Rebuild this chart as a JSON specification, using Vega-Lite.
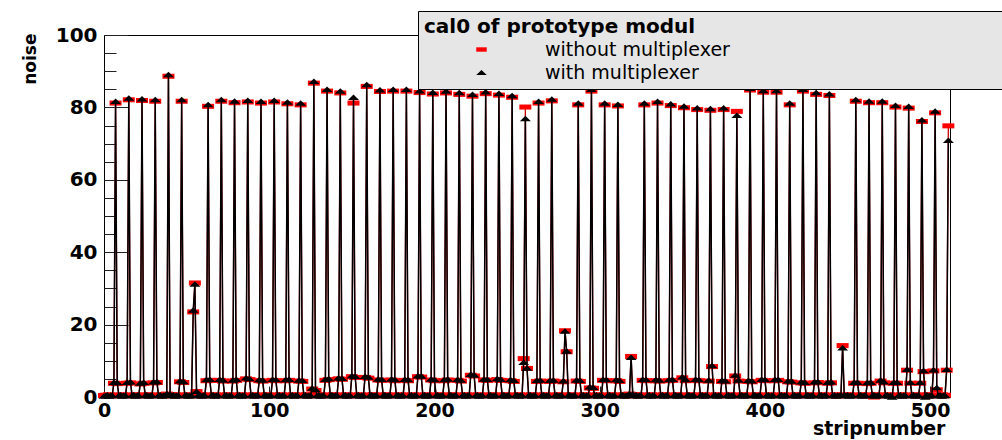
{
"$schema":"https://vega.github.io/schema/vega-lite/v6.json",
"width":846,"height":362,
"autosize":{"type":"none"},
"padding":{"left":104,"top":35,"right":52,"bottom":43},
"background":"white",
"config":{
 "view":{"stroke":"black","strokeWidth":1},
 "font":"DejaVu Sans",
 "legend":{"orient":"none","legendX":314,"legendY":-24,"padding":6,"fillColor":"#e6e6e6","strokeColor":"black",
  "titleFont":"DejaVu Sans","titleFontWeight":"bold","titleFontSize":20,"titleColor":"black","titlePadding":3,"titleLimit":1000,
  "labelFont":"DejaVu Sans","labelFontSize":19,"labelColor":"black","labelLimit":2000,"labelOffset":54,"symbolOffset":48,
  "symbolSize":110,"rowPadding":3,"symbolStrokeWidth":0}
},
"datasets":{"d":[
{"s":0,"a":0.4,"b":0.3},{"s":1,"a":0.5,"b":0.4},{"s":2,"a":0.4,"b":0.6},{"s":3,"a":0.6,"b":0.3},{"s":4,"a":0.3,"b":0.5},{"s":5,"a":0.5,"b":0.4},{"s":6,"a":3.8,"b":4.1},{"s":7,"a":81.2,"b":81.7},
{"s":8,"a":3.7,"b":4.0},{"s":9,"a":0.5,"b":0.4},{"s":10,"a":0.4,"b":0.6},{"s":11,"a":0.6,"b":0.3},{"s":12,"a":0.3,"b":0.5},{"s":13,"a":0.5,"b":0.4},{"s":14,"a":3.8,"b":4.1},{"s":15,"a":82.1,"b":82.6},
{"s":16,"a":3.9,"b":4.2},{"s":17,"a":0.5,"b":0.4},{"s":18,"a":0.4,"b":0.6},{"s":19,"a":0.6,"b":0.3},{"s":20,"a":0.3,"b":0.5},{"s":21,"a":0.5,"b":0.4},{"s":22,"a":3.6,"b":3.9},{"s":23,"a":81.9,"b":82.4},
{"s":24,"a":3.8,"b":4.1},{"s":25,"a":0.5,"b":0.4},{"s":26,"a":0.4,"b":0.6},{"s":27,"a":0.6,"b":0.3},{"s":28,"a":0.3,"b":0.5},{"s":29,"a":0.5,"b":0.4},{"s":30,"a":3.9,"b":4.2},{"s":31,"a":81.7,"b":82.2},
{"s":32,"a":4.0,"b":4.3},{"s":33,"a":0.5,"b":0.4},{"s":34,"a":0.4,"b":0.6},{"s":35,"a":0.6,"b":0.3},{"s":36,"a":0.3,"b":0.5},{"s":37,"a":0.5,"b":0.4},{"s":38,"a":0.8,"b":1.0},{"s":39,"a":88.6,"b":89.1},
{"s":40,"a":0.6,"b":0.8},{"s":41,"a":0.5,"b":0.4},{"s":42,"a":0.4,"b":0.6},{"s":43,"a":0.6,"b":0.3},{"s":44,"a":0.3,"b":0.5},{"s":45,"a":0.5,"b":0.4},{"s":46,"a":4.2,"b":4.5},{"s":47,"a":81.7,"b":82.2},
{"s":48,"a":4.0,"b":4.3},{"s":49,"a":0.5,"b":0.4},{"s":50,"a":0.4,"b":0.6},{"s":51,"a":0.6,"b":0.3},{"s":52,"a":0.3,"b":0.5},{"s":53,"a":0.5,"b":0.4},{"s":54,"a":23.5,"b":24.0},{"s":55,"a":31.5,"b":31.2},
{"s":56,"a":1.5,"b":1.6},{"s":57,"a":0.5,"b":0.4},{"s":58,"a":0.4,"b":0.6},{"s":59,"a":0.6,"b":0.3},{"s":60,"a":0.3,"b":0.5},{"s":61,"a":0.5,"b":0.4},{"s":62,"a":4.5,"b":4.8},{"s":63,"a":80.3,"b":80.8},
{"s":64,"a":4.6,"b":4.9},{"s":65,"a":0.5,"b":0.4},{"s":66,"a":0.4,"b":0.6},{"s":67,"a":0.6,"b":0.3},{"s":68,"a":0.3,"b":0.5},{"s":69,"a":0.5,"b":0.4},{"s":70,"a":4.6,"b":4.9},{"s":71,"a":81.7,"b":82.2},
{"s":72,"a":4.4,"b":4.7},{"s":73,"a":0.5,"b":0.4},{"s":74,"a":0.4,"b":0.6},{"s":75,"a":0.6,"b":0.3},{"s":76,"a":0.3,"b":0.5},{"s":77,"a":0.5,"b":0.4},{"s":78,"a":4.4,"b":4.7},{"s":79,"a":81.3,"b":81.8},
{"s":80,"a":4.6,"b":4.9},{"s":81,"a":0.5,"b":0.4},{"s":82,"a":0.4,"b":0.6},{"s":83,"a":0.6,"b":0.3},{"s":84,"a":0.3,"b":0.5},{"s":85,"a":0.5,"b":0.4},{"s":86,"a":5.0,"b":5.3},{"s":87,"a":81.5,"b":82.0},
{"s":88,"a":4.8,"b":5.1},{"s":89,"a":0.5,"b":0.4},{"s":90,"a":0.4,"b":0.6},{"s":91,"a":0.6,"b":0.3},{"s":92,"a":0.3,"b":0.5},{"s":93,"a":0.5,"b":0.4},{"s":94,"a":4.5,"b":4.8},{"s":95,"a":81.2,"b":81.7},
{"s":96,"a":4.4,"b":4.7},{"s":97,"a":0.5,"b":0.4},{"s":98,"a":0.4,"b":0.6},{"s":99,"a":0.6,"b":0.3},{"s":100,"a":0.3,"b":0.5},{"s":101,"a":0.5,"b":0.4},{"s":102,"a":4.6,"b":4.9},{"s":103,"a":81.5,"b":82.0},
{"s":104,"a":4.5,"b":4.8},{"s":105,"a":0.5,"b":0.4},{"s":106,"a":0.4,"b":0.6},{"s":107,"a":0.6,"b":0.3},{"s":108,"a":0.3,"b":0.5},{"s":109,"a":0.5,"b":0.4},{"s":110,"a":4.5,"b":4.8},{"s":111,"a":81.0,"b":81.5},
{"s":112,"a":4.6,"b":4.9},{"s":113,"a":0.5,"b":0.4},{"s":114,"a":0.4,"b":0.6},{"s":115,"a":0.6,"b":0.3},{"s":116,"a":0.3,"b":0.5},{"s":117,"a":0.5,"b":0.4},{"s":118,"a":4.4,"b":4.7},{"s":119,"a":80.7,"b":81.2},
{"s":120,"a":4.3,"b":4.6},{"s":121,"a":0.5,"b":0.4},{"s":122,"a":0.4,"b":0.6},{"s":123,"a":0.6,"b":0.3},{"s":124,"a":0.3,"b":0.5},{"s":125,"a":0.5,"b":0.4},{"s":126,"a":2.2,"b":2.5},{"s":127,"a":86.7,"b":87.2},
{"s":128,"a":1.8,"b":2.1},{"s":129,"a":0.5,"b":0.4},{"s":130,"a":0.4,"b":0.6},{"s":131,"a":0.6,"b":0.3},{"s":132,"a":0.3,"b":0.5},{"s":133,"a":0.5,"b":0.4},{"s":134,"a":4.6,"b":4.9},{"s":135,"a":84.5,"b":85.0},
{"s":136,"a":4.8,"b":5.1},{"s":137,"a":0.5,"b":0.4},{"s":138,"a":0.4,"b":0.6},{"s":139,"a":0.6,"b":0.3},{"s":140,"a":0.3,"b":0.5},{"s":141,"a":0.5,"b":0.4},{"s":142,"a":5.0,"b":5.3},{"s":143,"a":84.0,"b":84.5},
{"s":144,"a":4.9,"b":5.2},{"s":145,"a":0.5,"b":0.4},{"s":146,"a":0.4,"b":0.6},{"s":147,"a":0.6,"b":0.3},{"s":148,"a":0.3,"b":0.5},{"s":149,"a":0.5,"b":0.4},{"s":150,"a":5.6,"b":5.9},{"s":151,"a":81.2,"b":82.8},
{"s":152,"a":5.4,"b":5.7},{"s":153,"a":0.5,"b":0.4},{"s":154,"a":0.4,"b":0.6},{"s":155,"a":0.6,"b":0.3},{"s":156,"a":0.3,"b":0.5},{"s":157,"a":0.5,"b":0.4},{"s":158,"a":5.4,"b":5.7},{"s":159,"a":85.8,"b":86.3},
{"s":160,"a":5.2,"b":5.5},{"s":161,"a":0.5,"b":0.4},{"s":162,"a":0.4,"b":0.6},{"s":163,"a":0.6,"b":0.3},{"s":164,"a":0.3,"b":0.5},{"s":165,"a":0.5,"b":0.4},{"s":166,"a":4.7,"b":5.0},{"s":167,"a":84.4,"b":84.9},
{"s":168,"a":4.6,"b":4.9},{"s":169,"a":0.5,"b":0.4},{"s":170,"a":0.4,"b":0.6},{"s":171,"a":0.6,"b":0.3},{"s":172,"a":0.3,"b":0.5},{"s":173,"a":0.5,"b":0.4},{"s":174,"a":4.7,"b":5.0},{"s":175,"a":84.5,"b":85.0},
{"s":176,"a":4.5,"b":4.8},{"s":177,"a":0.5,"b":0.4},{"s":178,"a":0.4,"b":0.6},{"s":179,"a":0.6,"b":0.3},{"s":180,"a":0.3,"b":0.5},{"s":181,"a":0.5,"b":0.4},{"s":182,"a":4.6,"b":4.9},{"s":183,"a":84.5,"b":85.0},
{"s":184,"a":4.5,"b":4.8},{"s":185,"a":0.5,"b":0.4},{"s":186,"a":0.4,"b":0.6},{"s":187,"a":0.6,"b":0.3},{"s":188,"a":0.3,"b":0.5},{"s":189,"a":0.5,"b":0.4},{"s":190,"a":5.6,"b":5.9},{"s":191,"a":84.1,"b":84.6},
{"s":192,"a":5.5,"b":5.8},{"s":193,"a":0.5,"b":0.4},{"s":194,"a":0.4,"b":0.6},{"s":195,"a":0.6,"b":0.3},{"s":196,"a":0.3,"b":0.5},{"s":197,"a":0.5,"b":0.4},{"s":198,"a":4.7,"b":5.0},{"s":199,"a":83.7,"b":84.2},
{"s":200,"a":4.5,"b":4.8},{"s":201,"a":0.5,"b":0.4},{"s":202,"a":0.4,"b":0.6},{"s":203,"a":0.6,"b":0.3},{"s":204,"a":0.3,"b":0.5},{"s":205,"a":0.5,"b":0.4},{"s":206,"a":4.5,"b":4.8},{"s":207,"a":84.0,"b":84.5},
{"s":208,"a":4.7,"b":5.0},{"s":209,"a":0.5,"b":0.4},{"s":210,"a":0.4,"b":0.6},{"s":211,"a":0.6,"b":0.3},{"s":212,"a":0.3,"b":0.5},{"s":213,"a":0.5,"b":0.4},{"s":214,"a":4.6,"b":4.9},{"s":215,"a":83.6,"b":84.1},
{"s":216,"a":4.4,"b":4.7},{"s":217,"a":0.5,"b":0.4},{"s":218,"a":0.4,"b":0.6},{"s":219,"a":0.6,"b":0.3},{"s":220,"a":0.3,"b":0.5},{"s":221,"a":0.5,"b":0.4},{"s":222,"a":6.0,"b":6.3},{"s":223,"a":83.1,"b":83.6},
{"s":224,"a":5.8,"b":6.1},{"s":225,"a":0.5,"b":0.4},{"s":226,"a":0.4,"b":0.6},{"s":227,"a":0.6,"b":0.3},{"s":228,"a":0.3,"b":0.5},{"s":229,"a":0.5,"b":0.4},{"s":230,"a":4.7,"b":5.0},{"s":231,"a":83.8,"b":84.3},
{"s":232,"a":4.6,"b":4.9},{"s":233,"a":0.5,"b":0.4},{"s":234,"a":0.4,"b":0.6},{"s":235,"a":0.6,"b":0.3},{"s":236,"a":0.3,"b":0.5},{"s":237,"a":0.5,"b":0.4},{"s":238,"a":4.8,"b":5.1},{"s":239,"a":83.4,"b":83.9},
{"s":240,"a":4.6,"b":4.9},{"s":241,"a":0.5,"b":0.4},{"s":242,"a":0.4,"b":0.6},{"s":243,"a":0.6,"b":0.3},{"s":244,"a":0.3,"b":0.5},{"s":245,"a":0.5,"b":0.4},{"s":246,"a":4.5,"b":4.8},{"s":247,"a":82.8,"b":83.3},
{"s":248,"a":4.3,"b":4.6},{"s":249,"a":0.5,"b":0.4},{"s":250,"a":0.4,"b":0.6},{"s":251,"a":0.6,"b":0.3},{"s":252,"a":0.3,"b":0.5},{"s":253,"a":0.5,"b":0.4},{"s":254,"a":10.6,"b":9.6},{"s":255,"a":80.1,"b":76.9},
{"s":256,"a":7.9,"b":8.0},{"s":257,"a":0.5,"b":0.4},{"s":258,"a":0.4,"b":0.6},{"s":259,"a":0.6,"b":0.3},{"s":260,"a":0.3,"b":0.5},{"s":261,"a":0.5,"b":0.4},{"s":262,"a":4.3,"b":4.6},{"s":263,"a":81.2,"b":81.7},
{"s":264,"a":4.4,"b":4.7},{"s":265,"a":0.5,"b":0.4},{"s":266,"a":0.4,"b":0.6},{"s":267,"a":0.6,"b":0.3},{"s":268,"a":0.3,"b":0.5},{"s":269,"a":0.5,"b":0.4},{"s":270,"a":4.3,"b":4.6},{"s":271,"a":81.8,"b":82.3},
{"s":272,"a":4.4,"b":4.7},{"s":273,"a":0.5,"b":0.4},{"s":274,"a":0.4,"b":0.6},{"s":275,"a":0.6,"b":0.3},{"s":276,"a":0.3,"b":0.5},{"s":277,"a":0.5,"b":0.4},{"s":278,"a":4.2,"b":4.5},{"s":279,"a":18.3,"b":18.2},
{"s":280,"a":12.5,"b":12.7},{"s":281,"a":0.5,"b":0.4},{"s":282,"a":0.4,"b":0.6},{"s":283,"a":0.6,"b":0.3},{"s":284,"a":0.3,"b":0.5},{"s":285,"a":0.5,"b":0.4},{"s":286,"a":4.4,"b":4.7},{"s":287,"a":80.7,"b":81.2},
{"s":288,"a":4.3,"b":4.6},{"s":289,"a":0.5,"b":0.4},{"s":290,"a":0.4,"b":0.6},{"s":291,"a":0.6,"b":0.3},{"s":292,"a":0.3,"b":0.5},{"s":293,"a":0.5,"b":0.4},{"s":294,"a":2.5,"b":2.8},{"s":295,"a":84.5,"b":85.0},
{"s":296,"a":2.4,"b":2.7},{"s":297,"a":0.5,"b":0.4},{"s":298,"a":0.4,"b":0.6},{"s":299,"a":0.6,"b":0.3},{"s":300,"a":0.3,"b":0.5},{"s":301,"a":0.5,"b":0.4},{"s":302,"a":4.6,"b":4.9},{"s":303,"a":80.7,"b":81.2},
{"s":304,"a":4.5,"b":4.8},{"s":305,"a":0.5,"b":0.4},{"s":306,"a":0.4,"b":0.6},{"s":307,"a":0.6,"b":0.3},{"s":308,"a":0.3,"b":0.5},{"s":309,"a":0.5,"b":0.4},{"s":310,"a":4.5,"b":4.8},{"s":311,"a":80.4,"b":80.9},
{"s":312,"a":4.3,"b":4.6},{"s":313,"a":0.5,"b":0.4},{"s":314,"a":0.4,"b":0.6},{"s":315,"a":0.6,"b":0.3},{"s":316,"a":0.3,"b":0.5},{"s":317,"a":0.5,"b":0.4},{"s":318,"a":0.8,"b":1.0},{"s":319,"a":11.2,"b":11.0},
{"s":320,"a":0.6,"b":0.8},{"s":321,"a":0.5,"b":0.4},{"s":322,"a":0.4,"b":0.6},{"s":323,"a":0.6,"b":0.3},{"s":324,"a":0.3,"b":0.5},{"s":325,"a":0.5,"b":0.4},{"s":326,"a":4.6,"b":4.9},{"s":327,"a":80.7,"b":81.2},
{"s":328,"a":4.5,"b":4.8},{"s":329,"a":0.5,"b":0.4},{"s":330,"a":0.4,"b":0.6},{"s":331,"a":0.6,"b":0.3},{"s":332,"a":0.3,"b":0.5},{"s":333,"a":0.5,"b":0.4},{"s":334,"a":4.5,"b":4.8},{"s":335,"a":81.2,"b":81.7},
{"s":336,"a":4.4,"b":4.7},{"s":337,"a":0.5,"b":0.4},{"s":338,"a":0.4,"b":0.6},{"s":339,"a":0.6,"b":0.3},{"s":340,"a":0.3,"b":0.5},{"s":341,"a":0.5,"b":0.4},{"s":342,"a":4.5,"b":4.8},{"s":343,"a":80.5,"b":81.0},
{"s":344,"a":4.6,"b":4.9},{"s":345,"a":0.5,"b":0.4},{"s":346,"a":0.4,"b":0.6},{"s":347,"a":0.6,"b":0.3},{"s":348,"a":0.3,"b":0.5},{"s":349,"a":0.5,"b":0.4},{"s":350,"a":5.3,"b":5.6},{"s":351,"a":79.9,"b":80.4},
{"s":352,"a":4.5,"b":4.8},{"s":353,"a":0.5,"b":0.4},{"s":354,"a":0.4,"b":0.6},{"s":355,"a":0.6,"b":0.3},{"s":356,"a":0.3,"b":0.5},{"s":357,"a":0.5,"b":0.4},{"s":358,"a":4.6,"b":4.9},{"s":359,"a":79.4,"b":79.9},
{"s":360,"a":4.5,"b":4.8},{"s":361,"a":0.5,"b":0.4},{"s":362,"a":0.4,"b":0.6},{"s":363,"a":0.6,"b":0.3},{"s":364,"a":0.3,"b":0.5},{"s":365,"a":0.5,"b":0.4},{"s":366,"a":4.4,"b":4.7},{"s":367,"a":79.2,"b":79.7},
{"s":368,"a":8.4,"b":8.7},{"s":369,"a":0.5,"b":0.4},{"s":370,"a":0.4,"b":0.6},{"s":371,"a":0.6,"b":0.3},{"s":372,"a":0.3,"b":0.5},{"s":373,"a":0.5,"b":0.4},{"s":374,"a":4.3,"b":4.6},{"s":375,"a":79.4,"b":79.9},
{"s":376,"a":4.2,"b":4.5},{"s":377,"a":0.5,"b":0.4},{"s":378,"a":0.4,"b":0.6},{"s":379,"a":0.6,"b":0.3},{"s":380,"a":0.3,"b":0.5},{"s":381,"a":0.5,"b":0.4},{"s":382,"a":5.8,"b":6.1},{"s":383,"a":78.9,"b":77.8},
{"s":384,"a":4.4,"b":4.7},{"s":385,"a":0.5,"b":0.4},{"s":386,"a":0.4,"b":0.6},{"s":387,"a":0.6,"b":0.3},{"s":388,"a":0.3,"b":0.5},{"s":389,"a":0.5,"b":0.4},{"s":390,"a":4.3,"b":4.6},{"s":391,"a":84.8,"b":85.3},
{"s":392,"a":4.2,"b":4.5},{"s":393,"a":0.5,"b":0.4},{"s":394,"a":0.4,"b":0.6},{"s":395,"a":0.6,"b":0.3},{"s":396,"a":0.3,"b":0.5},{"s":397,"a":0.5,"b":0.4},{"s":398,"a":4.6,"b":4.9},{"s":399,"a":84.2,"b":84.7},
{"s":400,"a":4.5,"b":4.8},{"s":401,"a":0.5,"b":0.4},{"s":402,"a":0.4,"b":0.6},{"s":403,"a":0.6,"b":0.3},{"s":404,"a":0.3,"b":0.5},{"s":405,"a":0.5,"b":0.4},{"s":406,"a":4.5,"b":4.8},{"s":407,"a":84.2,"b":84.7},
{"s":408,"a":4.6,"b":4.9},{"s":409,"a":0.5,"b":0.4},{"s":410,"a":0.4,"b":0.6},{"s":411,"a":0.6,"b":0.3},{"s":412,"a":0.3,"b":0.5},{"s":413,"a":0.5,"b":0.4},{"s":414,"a":4.2,"b":4.5},{"s":415,"a":80.7,"b":81.2},
{"s":416,"a":4.1,"b":4.4},{"s":417,"a":0.5,"b":0.4},{"s":418,"a":0.4,"b":0.6},{"s":419,"a":0.6,"b":0.3},{"s":420,"a":0.3,"b":0.5},{"s":421,"a":0.5,"b":0.4},{"s":422,"a":3.9,"b":4.2},{"s":423,"a":84.5,"b":85.0},
{"s":424,"a":3.8,"b":4.1},{"s":425,"a":0.5,"b":0.4},{"s":426,"a":0.4,"b":0.6},{"s":427,"a":0.6,"b":0.3},{"s":428,"a":0.3,"b":0.5},{"s":429,"a":0.5,"b":0.4},{"s":430,"a":3.9,"b":4.2},{"s":431,"a":83.6,"b":84.1},
{"s":432,"a":4.0,"b":4.3},{"s":433,"a":0.5,"b":0.4},{"s":434,"a":0.4,"b":0.6},{"s":435,"a":0.6,"b":0.3},{"s":436,"a":0.3,"b":0.5},{"s":437,"a":0.5,"b":0.4},{"s":438,"a":3.8,"b":4.1},{"s":439,"a":83.3,"b":83.8},
{"s":440,"a":3.9,"b":4.2},{"s":441,"a":0.5,"b":0.4},{"s":442,"a":0.4,"b":0.6},{"s":443,"a":0.6,"b":0.3},{"s":444,"a":0.3,"b":0.5},{"s":445,"a":0.5,"b":0.4},{"s":446,"a":0.4,"b":0.5},{"s":447,"a":14.2,"b":13.6},
{"s":448,"a":0.5,"b":0.6},{"s":449,"a":0.5,"b":0.4},{"s":450,"a":0.4,"b":0.6},{"s":451,"a":0.6,"b":0.3},{"s":452,"a":0.3,"b":0.5},{"s":453,"a":0.5,"b":0.4},{"s":454,"a":3.8,"b":4.1},{"s":455,"a":81.7,"b":82.2},
{"s":456,"a":3.8,"b":4.1},{"s":457,"a":0.5,"b":0.4},{"s":458,"a":0.4,"b":0.6},{"s":459,"a":0.6,"b":0.3},{"s":460,"a":0.3,"b":0.5},{"s":461,"a":0.5,"b":0.4},{"s":462,"a":3.7,"b":4.0},{"s":463,"a":81.3,"b":81.8},
{"s":464,"a":3.8,"b":4.1},{"s":465,"a":0.5,"b":0.4},{"s":466,"a":0.0,"b":0.6},{"s":467,"a":0.6,"b":0.3},{"s":468,"a":0.3,"b":0.5},{"s":469,"a":0.5,"b":0.4},{"s":470,"a":4.4,"b":4.7},{"s":471,"a":81.3,"b":81.8},
{"s":472,"a":3.9,"b":4.2},{"s":473,"a":0.5,"b":0.4},{"s":474,"a":0.4,"b":0.6},{"s":475,"a":0.6,"b":0.3},{"s":476,"a":0.3,"b":0.5},{"s":477,"a":0.5,"b":0.0},{"s":478,"a":3.8,"b":4.1},{"s":479,"a":80.1,"b":80.6},
{"s":480,"a":3.8,"b":4.1},{"s":481,"a":0.5,"b":0.4},{"s":482,"a":0.4,"b":0.6},{"s":483,"a":0.6,"b":0.3},{"s":484,"a":0.3,"b":0.5},{"s":485,"a":0.5,"b":0.4},{"s":486,"a":7.4,"b":7.7},{"s":487,"a":79.8,"b":80.3},
{"s":488,"a":3.8,"b":4.1},{"s":489,"a":0.5,"b":0.4},{"s":490,"a":0.4,"b":0.6},{"s":491,"a":0.6,"b":0.3},{"s":492,"a":0.3,"b":0.5},{"s":493,"a":0.5,"b":0.4},{"s":494,"a":3.8,"b":4.1},{"s":495,"a":76.1,"b":76.6},
{"s":496,"a":7.0,"b":7.3},{"s":497,"a":0.5,"b":0.0},{"s":498,"a":0.4,"b":0.6},{"s":499,"a":0.6,"b":0.3},{"s":500,"a":0.3,"b":0.5},{"s":501,"a":0.5,"b":0.4},{"s":502,"a":7.2,"b":7.5},{"s":503,"a":78.5,"b":79.0},
{"s":504,"a":2.0,"b":2.6},{"s":505,"a":0.5,"b":0.4},{"s":506,"a":0.4,"b":0.6},{"s":507,"a":0.6,"b":0.3},{"s":508,"a":0.3,"b":0.5},{"s":509,"a":0.5,"b":0.4},{"s":510,"a":7.4,"b":7.7},{"s":511,"a":74.9,"b":70.9}
]},
"data":{"name":"d"},
"transform":[{"fold":["a","b"],"as":["k","v"]}],
"layer":[
 {"transform":[{"filter":"datum.k === 'a'"}],
  "mark":{"type":"line","color":"#c80000","strokeWidth":1.3},
  "encoding":{
   "x":{"field":"s","type":"quantitative","scale":{"domain":[0,512],"nice":false,"zero":false},
        "axis":{"orient":"bottom","values":[0,100,200,300,400,500],"ticks":false,"domain":false,"grid":false,
                "labelFont":"DejaVu Sans","labelFontWeight":"bold","labelFontSize":19,"labelColor":"black","labelPadding":4,"labelFlush":false,
                "title":"stripnumber","titleFont":"DejaVu Sans","titleFontWeight":"bold","titleFontSize":19,"titleColor":"black",
                "titleX":841,"titleY":37,"titleAlign":"right","titleBaseline":"alphabetic"}},
   "y":{"field":"v","type":"quantitative","scale":{"domain":[0,100],"nice":false},
        "axis":{"orient":"left","values":[0,20,40,60,80,100],"ticks":false,"domain":false,"grid":false,
                "labelFont":"DejaVu Sans","labelFontWeight":"bold","labelFontSize":20,"labelColor":"black","labelPadding":7,"labelFlush":false,
                "title":"noise","titleFont":"DejaVu Sans","titleFontWeight":"bold","titleFontSize":17,"titleColor":"black",
                "titleAngle":270,"titleX":-69,"titleY":-2,"titleAlign":"right","titleBaseline":"alphabetic"}}
  }},
 {"transform":[{"filter":"datum.k === 'a'"}],
  "mark":{"type":"point","filled":true,"size":144,"opacity":1},
  "encoding":{
   "x":{"field":"s","type":"quantitative","scale":{"domain":[0,512],"nice":false,"zero":false},
        "axis":{"orient":"top","offset":-362,"values":[0,100,200,300,400,500],"labels":false,"domain":false,"grid":false,"tickSize":11,"tickColor":"#222","title":null}},
   "y":{"field":"v","type":"quantitative","scale":{"domain":[0,100],"nice":false},
        "axis":{"orient":"right","offset":-846,"values":[0,20,40,60,80,100],"labels":false,"domain":false,"grid":false,"tickSize":24,"tickColor":"#222","title":null}},
   "color":{"field":"k","type":"nominal","title":"cal0 of prototype modul","scale":{"domain":["a","b"],"range":["#ff0000","#000000"]},
            "legend":{"labelExpr":"(datum.label === 'a' ? 'without multiplexer' : 'with multiplexer') + '\u00a0\u00a0\u00a0\u00a0\u00a0\u00a0\u00a0\u00a0\u00a0\u00a0\u00a0\u00a0\u00a0\u00a0\u00a0\u00a0\u00a0\u00a0\u00a0\u00a0\u00a0\u00a0\u00a0\u00a0\u00a0\u00a0\u00a0\u00a0\u00a0\u00a0\u00a0\u00a0\u00a0\u00a0\u00a0\u00a0\u00a0\u00a0\u00a0\u00a0\u00a0\u00a0\u00a0\u00a0\u200b'"}},
   "shape":{"field":"k","type":"nominal","title":"cal0 of prototype modul","scale":{"domain":["a","b"],"range":["M-1,-0.42L1,-0.42L1,0.42L-1,0.42Z","M-1,0.5L1,0.5L0,-0.5Z"]},
            "legend":{"labelExpr":"(datum.label === 'a' ? 'without multiplexer' : 'with multiplexer') + '\u00a0\u00a0\u00a0\u00a0\u00a0\u00a0\u00a0\u00a0\u00a0\u00a0\u00a0\u00a0\u00a0\u00a0\u00a0\u00a0\u00a0\u00a0\u00a0\u00a0\u00a0\u00a0\u00a0\u00a0\u00a0\u00a0\u00a0\u00a0\u00a0\u00a0\u00a0\u00a0\u00a0\u00a0\u00a0\u00a0\u00a0\u00a0\u00a0\u00a0\u00a0\u00a0\u00a0\u00a0\u200b'"}}
  }},
 {"transform":[{"filter":"datum.k === 'b'"}],
  "mark":{"type":"line","color":"#000000","strokeWidth":1.5},
  "encoding":{
   "x":{"field":"s","type":"quantitative","scale":{"domain":[0,512],"nice":false,"zero":false},
        "axis":{"orient":"top","offset":-362,"values":[0,20,40,60,80,100,120,140,160,180,200,220,240,260,280,300,320,340,360,380,400,420,440,460,480,500],"labels":false,"domain":false,"grid":false,"tickSize":5.5,"tickColor":"#222","title":null}},
   "y":{"field":"v","type":"quantitative","scale":{"domain":[0,100],"nice":false},
        "axis":{"orient":"right","offset":-846,"values":[0,5,10,15,20,25,30,35,40,45,50,55,60,65,70,75,80,85,90,95,100],"labels":false,"domain":false,"grid":false,"tickSize":12,"tickColor":"#222","title":null}}
  }},
 {"transform":[{"filter":"datum.k === 'b'"}],
  "mark":{"type":"point","filled":true,"size":121,"opacity":1},
  "encoding":{
   "x":{"field":"s","type":"quantitative","scale":{"domain":[0,512],"nice":false,"zero":false},"axis":null},
   "y":{"field":"v","type":"quantitative","scale":{"domain":[0,100],"nice":false},"axis":null},
   "color":{"field":"k","type":"nominal","title":"cal0 of prototype modul","scale":{"domain":["a","b"],"range":["#ff0000","#000000"]},
            "legend":{"labelExpr":"(datum.label === 'a' ? 'without multiplexer' : 'with multiplexer') + '\u00a0\u00a0\u00a0\u00a0\u00a0\u00a0\u00a0\u00a0\u00a0\u00a0\u00a0\u00a0\u00a0\u00a0\u00a0\u00a0\u00a0\u00a0\u00a0\u00a0\u00a0\u00a0\u00a0\u00a0\u00a0\u00a0\u00a0\u00a0\u00a0\u00a0\u00a0\u00a0\u00a0\u00a0\u00a0\u00a0\u00a0\u00a0\u00a0\u00a0\u00a0\u00a0\u00a0\u00a0\u200b'"}},
   "shape":{"field":"k","type":"nominal","title":"cal0 of prototype modul","scale":{"domain":["a","b"],"range":["M-1,-0.42L1,-0.42L1,0.42L-1,0.42Z","M-1,0.5L1,0.5L0,-0.5Z"]},
            "legend":{"labelExpr":"(datum.label === 'a' ? 'without multiplexer' : 'with multiplexer') + '\u00a0\u00a0\u00a0\u00a0\u00a0\u00a0\u00a0\u00a0\u00a0\u00a0\u00a0\u00a0\u00a0\u00a0\u00a0\u00a0\u00a0\u00a0\u00a0\u00a0\u00a0\u00a0\u00a0\u00a0\u00a0\u00a0\u00a0\u00a0\u00a0\u00a0\u00a0\u00a0\u00a0\u00a0\u00a0\u00a0\u00a0\u00a0\u00a0\u00a0\u00a0\u00a0\u00a0\u00a0\u200b'"}}
  }}
],
"resolve":{"axis":{"x":"independent","y":"independent"}}
}
